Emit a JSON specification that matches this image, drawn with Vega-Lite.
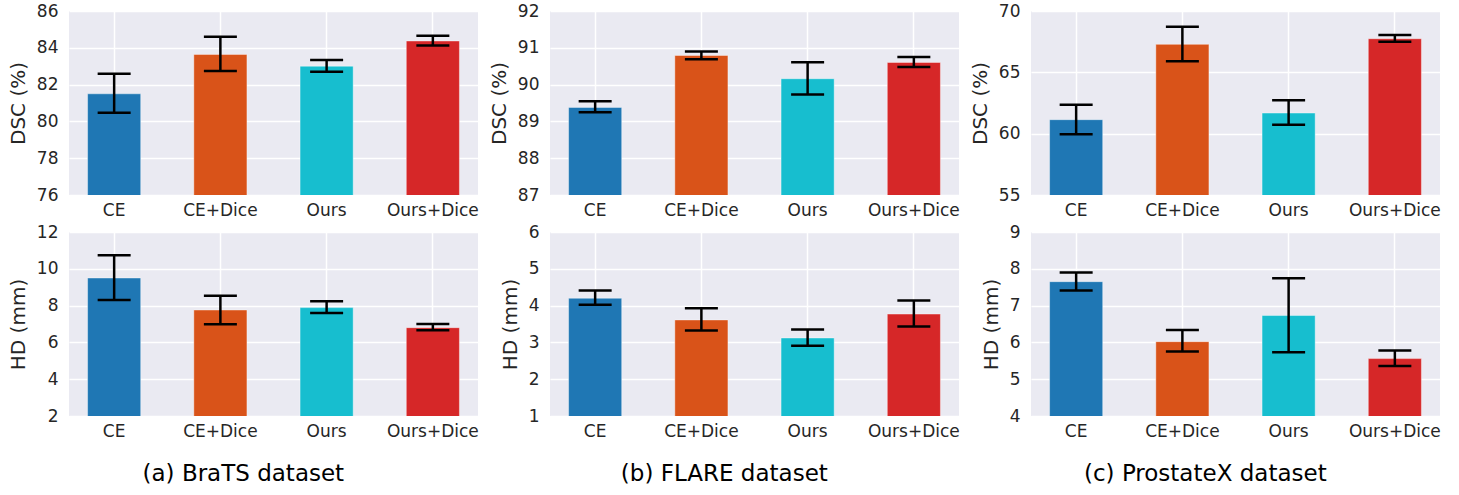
{
  "$schema": "https://vega.github.io/schema/vega-lite/v6.json",
  "padding": {"left": 8, "top": 2, "right": 5, "bottom": 5},
  "datasets": {
    "brats_dsc": [
      {"method": "CE", "value": 81.5, "lo": 80.47, "hi": 82.59},
      {"method": "CE+Dice", "value": 83.64, "lo": 82.74, "hi": 84.6},
      {"method": "Ours", "value": 83.0, "lo": 82.7, "hi": 83.34},
      {"method": "Ours+Dice", "value": 84.37, "lo": 84.12, "hi": 84.66}
    ],
    "brats_hd": [
      {"method": "CE", "value": 9.5, "lo": 8.3, "hi": 10.73},
      {"method": "CE+Dice", "value": 7.76, "lo": 6.98, "hi": 8.54},
      {"method": "Ours", "value": 7.89, "lo": 7.6, "hi": 8.23},
      {"method": "Ours+Dice", "value": 6.8, "lo": 6.66, "hi": 7.0}
    ],
    "flare_dsc": [
      {"method": "CE", "value": 89.38, "lo": 89.25, "hi": 89.55},
      {"method": "CE+Dice", "value": 90.79, "lo": 90.69, "hi": 90.9},
      {"method": "Ours", "value": 90.16, "lo": 89.73, "hi": 90.61},
      {"method": "Ours+Dice", "value": 90.6, "lo": 90.48, "hi": 90.75}
    ],
    "flare_hd": [
      {"method": "CE", "value": 4.2, "lo": 4.02, "hi": 4.41},
      {"method": "CE+Dice", "value": 3.61, "lo": 3.32, "hi": 3.93},
      {"method": "Ours", "value": 3.12, "lo": 2.91, "hi": 3.35},
      {"method": "Ours+Dice", "value": 3.77, "lo": 3.43, "hi": 4.14}
    ],
    "prostate_dsc": [
      {"method": "CE", "value": 61.14, "lo": 59.95, "hi": 62.36},
      {"method": "CE+Dice", "value": 67.28, "lo": 65.9, "hi": 68.72},
      {"method": "Ours", "value": 61.68, "lo": 60.73, "hi": 62.72},
      {"method": "Ours+Dice", "value": 67.74, "lo": 67.5, "hi": 68.04}
    ],
    "prostate_hd": [
      {"method": "CE", "value": 7.65, "lo": 7.41, "hi": 7.9},
      {"method": "CE+Dice", "value": 6.02, "lo": 5.75, "hi": 6.34},
      {"method": "Ours", "value": 6.73, "lo": 5.73, "hi": 7.74},
      {"method": "Ours+Dice", "value": 5.56, "lo": 5.36, "hi": 5.78}
    ]
  },
  "hconcat": [
    {
      "title": {"text": "(a) BraTS dataset"},
      "spacing": 5,
      "vconcat": [
        {
          "width": 409, "height": 184,
          "data": {"name": "brats_dsc"},
          "encoding": {"x": {"field": "method", "type": "nominal", "sort": ["CE", "CE+Dice", "Ours", "Ours+Dice"], "scale": {"paddingInner": 0.5, "paddingOuter": 0.175}, "axis": {"title": null, "labelAngle": 0, "bandPosition": 0.5}}},
          "layer": [
            {"mark": {"type": "bar", "clip": true, "stroke": "white", "strokeOpacity": 0.4, "strokeWidth": 1},
             "encoding": {"y": {"field": "value", "type": "quantitative", "scale": {"domain": [76, 86], "nice": false, "zero": false}, "axis": {"title": "DSC (%)", "titleFontSize": 20, "labelFontSize": 17, "labelOverlap": false, "labelFlush": false, "values": [76, 78, 80, 82, 84, 86]}},
                          "color": {"field": "method", "type": "nominal", "scale": {"domain": ["CE", "CE+Dice", "Ours", "Ours+Dice"], "range": ["#1f77b4", "#d95319", "#17becf", "#d62728"]}, "legend": null}}},
            {"mark": {"type": "rule", "color": "black", "strokeWidth": 2.5}, "encoding": {"y": {"field": "lo", "type": "quantitative"}, "y2": {"field": "hi"}}},
            {"mark": {"type": "tick", "color": "black", "thickness": 2.5, "size": 33, "opacity": 1}, "encoding": {"y": {"field": "lo", "type": "quantitative"}}},
            {"mark": {"type": "tick", "color": "black", "thickness": 2.5, "size": 33, "opacity": 1}, "encoding": {"y": {"field": "hi", "type": "quantitative"}}}
          ]
        },
        {
          "width": 409, "height": 184,
          "data": {"name": "brats_hd"},
          "encoding": {"x": {"field": "method", "type": "nominal", "sort": ["CE", "CE+Dice", "Ours", "Ours+Dice"], "scale": {"paddingInner": 0.5, "paddingOuter": 0.175}, "axis": {"title": null, "labelAngle": 0, "bandPosition": 0.5}}},
          "layer": [
            {"mark": {"type": "bar", "clip": true, "stroke": "white", "strokeOpacity": 0.4, "strokeWidth": 1},
             "encoding": {"y": {"field": "value", "type": "quantitative", "scale": {"domain": [2, 12], "nice": false, "zero": false}, "axis": {"title": "HD (mm)", "titleFontSize": 20, "labelFontSize": 17, "labelOverlap": false, "labelFlush": false, "values": [2, 4, 6, 8, 10, 12]}},
                          "color": {"field": "method", "type": "nominal", "scale": {"domain": ["CE", "CE+Dice", "Ours", "Ours+Dice"], "range": ["#1f77b4", "#d95319", "#17becf", "#d62728"]}, "legend": null}}},
            {"mark": {"type": "rule", "color": "black", "strokeWidth": 2.5}, "encoding": {"y": {"field": "lo", "type": "quantitative"}, "y2": {"field": "hi"}}},
            {"mark": {"type": "tick", "color": "black", "thickness": 2.5, "size": 33, "opacity": 1}, "encoding": {"y": {"field": "lo", "type": "quantitative"}}},
            {"mark": {"type": "tick", "color": "black", "thickness": 2.5, "size": 33, "opacity": 1}, "encoding": {"y": {"field": "hi", "type": "quantitative"}}}
          ]
        }
      ]
    },
    {
      "title": {"text": "(b) FLARE dataset"},
      "spacing": 5,
      "vconcat": [
        {
          "width": 409, "height": 184,
          "data": {"name": "flare_dsc"},
          "encoding": {"x": {"field": "method", "type": "nominal", "sort": ["CE", "CE+Dice", "Ours", "Ours+Dice"], "scale": {"paddingInner": 0.5, "paddingOuter": 0.175}, "axis": {"title": null, "labelAngle": 0, "bandPosition": 0.5}}},
          "layer": [
            {"mark": {"type": "bar", "clip": true, "stroke": "white", "strokeOpacity": 0.4, "strokeWidth": 1},
             "encoding": {"y": {"field": "value", "type": "quantitative", "scale": {"domain": [87, 92], "nice": false, "zero": false}, "axis": {"title": "DSC (%)", "titleFontSize": 20, "labelFontSize": 17, "labelOverlap": false, "labelFlush": false, "values": [87, 88, 89, 90, 91, 92]}},
                          "color": {"field": "method", "type": "nominal", "scale": {"domain": ["CE", "CE+Dice", "Ours", "Ours+Dice"], "range": ["#1f77b4", "#d95319", "#17becf", "#d62728"]}, "legend": null}}},
            {"mark": {"type": "rule", "color": "black", "strokeWidth": 2.5}, "encoding": {"y": {"field": "lo", "type": "quantitative"}, "y2": {"field": "hi"}}},
            {"mark": {"type": "tick", "color": "black", "thickness": 2.5, "size": 33, "opacity": 1}, "encoding": {"y": {"field": "lo", "type": "quantitative"}}},
            {"mark": {"type": "tick", "color": "black", "thickness": 2.5, "size": 33, "opacity": 1}, "encoding": {"y": {"field": "hi", "type": "quantitative"}}}
          ]
        },
        {
          "width": 409, "height": 184,
          "data": {"name": "flare_hd"},
          "encoding": {"x": {"field": "method", "type": "nominal", "sort": ["CE", "CE+Dice", "Ours", "Ours+Dice"], "scale": {"paddingInner": 0.5, "paddingOuter": 0.175}, "axis": {"title": null, "labelAngle": 0, "bandPosition": 0.5}}},
          "layer": [
            {"mark": {"type": "bar", "clip": true, "stroke": "white", "strokeOpacity": 0.4, "strokeWidth": 1},
             "encoding": {"y": {"field": "value", "type": "quantitative", "scale": {"domain": [1, 6], "nice": false, "zero": false}, "axis": {"title": "HD (mm)", "titleFontSize": 20, "labelFontSize": 17, "labelOverlap": false, "labelFlush": false, "values": [1, 2, 3, 4, 5, 6]}},
                          "color": {"field": "method", "type": "nominal", "scale": {"domain": ["CE", "CE+Dice", "Ours", "Ours+Dice"], "range": ["#1f77b4", "#d95319", "#17becf", "#d62728"]}, "legend": null}}},
            {"mark": {"type": "rule", "color": "black", "strokeWidth": 2.5}, "encoding": {"y": {"field": "lo", "type": "quantitative"}, "y2": {"field": "hi"}}},
            {"mark": {"type": "tick", "color": "black", "thickness": 2.5, "size": 33, "opacity": 1}, "encoding": {"y": {"field": "lo", "type": "quantitative"}}},
            {"mark": {"type": "tick", "color": "black", "thickness": 2.5, "size": 33, "opacity": 1}, "encoding": {"y": {"field": "hi", "type": "quantitative"}}}
          ]
        }
      ]
    },
    {
      "title": {"text": "(c) ProstateX dataset"},
      "spacing": 5,
      "vconcat": [
        {
          "width": 409, "height": 184,
          "data": {"name": "prostate_dsc"},
          "encoding": {"x": {"field": "method", "type": "nominal", "sort": ["CE", "CE+Dice", "Ours", "Ours+Dice"], "scale": {"paddingInner": 0.5, "paddingOuter": 0.175}, "axis": {"title": null, "labelAngle": 0, "bandPosition": 0.5}}},
          "layer": [
            {"mark": {"type": "bar", "clip": true, "stroke": "white", "strokeOpacity": 0.4, "strokeWidth": 1},
             "encoding": {"y": {"field": "value", "type": "quantitative", "scale": {"domain": [55, 70], "nice": false, "zero": false}, "axis": {"title": "DSC (%)", "titleFontSize": 20, "labelFontSize": 17, "labelOverlap": false, "labelFlush": false, "values": [55, 60, 65, 70]}},
                          "color": {"field": "method", "type": "nominal", "scale": {"domain": ["CE", "CE+Dice", "Ours", "Ours+Dice"], "range": ["#1f77b4", "#d95319", "#17becf", "#d62728"]}, "legend": null}}},
            {"mark": {"type": "rule", "color": "black", "strokeWidth": 2.5}, "encoding": {"y": {"field": "lo", "type": "quantitative"}, "y2": {"field": "hi"}}},
            {"mark": {"type": "tick", "color": "black", "thickness": 2.5, "size": 33, "opacity": 1}, "encoding": {"y": {"field": "lo", "type": "quantitative"}}},
            {"mark": {"type": "tick", "color": "black", "thickness": 2.5, "size": 33, "opacity": 1}, "encoding": {"y": {"field": "hi", "type": "quantitative"}}}
          ]
        },
        {
          "width": 409, "height": 184,
          "data": {"name": "prostate_hd"},
          "encoding": {"x": {"field": "method", "type": "nominal", "sort": ["CE", "CE+Dice", "Ours", "Ours+Dice"], "scale": {"paddingInner": 0.5, "paddingOuter": 0.175}, "axis": {"title": null, "labelAngle": 0, "bandPosition": 0.5}}},
          "layer": [
            {"mark": {"type": "bar", "clip": true, "stroke": "white", "strokeOpacity": 0.4, "strokeWidth": 1},
             "encoding": {"y": {"field": "value", "type": "quantitative", "scale": {"domain": [4, 9], "nice": false, "zero": false}, "axis": {"title": "HD (mm)", "titleFontSize": 20, "labelFontSize": 17, "labelOverlap": false, "labelFlush": false, "values": [4, 5, 6, 7, 8, 9]}},
                          "color": {"field": "method", "type": "nominal", "scale": {"domain": ["CE", "CE+Dice", "Ours", "Ours+Dice"], "range": ["#1f77b4", "#d95319", "#17becf", "#d62728"]}, "legend": null}}},
            {"mark": {"type": "rule", "color": "black", "strokeWidth": 2.5}, "encoding": {"y": {"field": "lo", "type": "quantitative"}, "y2": {"field": "hi"}}},
            {"mark": {"type": "tick", "color": "black", "thickness": 2.5, "size": 33, "opacity": 1}, "encoding": {"y": {"field": "lo", "type": "quantitative"}}},
            {"mark": {"type": "tick", "color": "black", "thickness": 2.5, "size": 33, "opacity": 1}, "encoding": {"y": {"field": "hi", "type": "quantitative"}}}
          ]
        }
      ]
    }
  ],
  "spacing": 10,
  "config": {
    "background": "white",
    "view": {"fill": "#eaeaf2", "stroke": null},
    "axis": {"domain": false, "ticks": false, "grid": true, "gridColor": "white", "gridWidth": 1.5, "labelFont": "DejaVu Sans", "labelFontSize": 17, "labelColor": "#262626", "titleFont": "DejaVu Sans", "titleFontSize": 20, "titleFontWeight": "normal", "titleColor": "#262626", "labelPadding": 11, "titlePadding": 8, "labelOverlap": false, "labelFlush": false},
    "axisX": {"labelPadding": 7, "labelFontSize": 17},
    "axisY": {"titleFontSize": 20, "labelFontSize": 17, "labelOverlap": false, "labelFlush": false},
    "axisQuantitative": {"labelOverlap": false, "labelFlush": false, "tickCount": 6},
    "title": {"orient": "bottom", "anchor": "middle", "frame": "bounds", "font": "DejaVu Sans", "fontSize": 23, "fontWeight": "normal", "color": "black", "offset": 24}
  }
}
